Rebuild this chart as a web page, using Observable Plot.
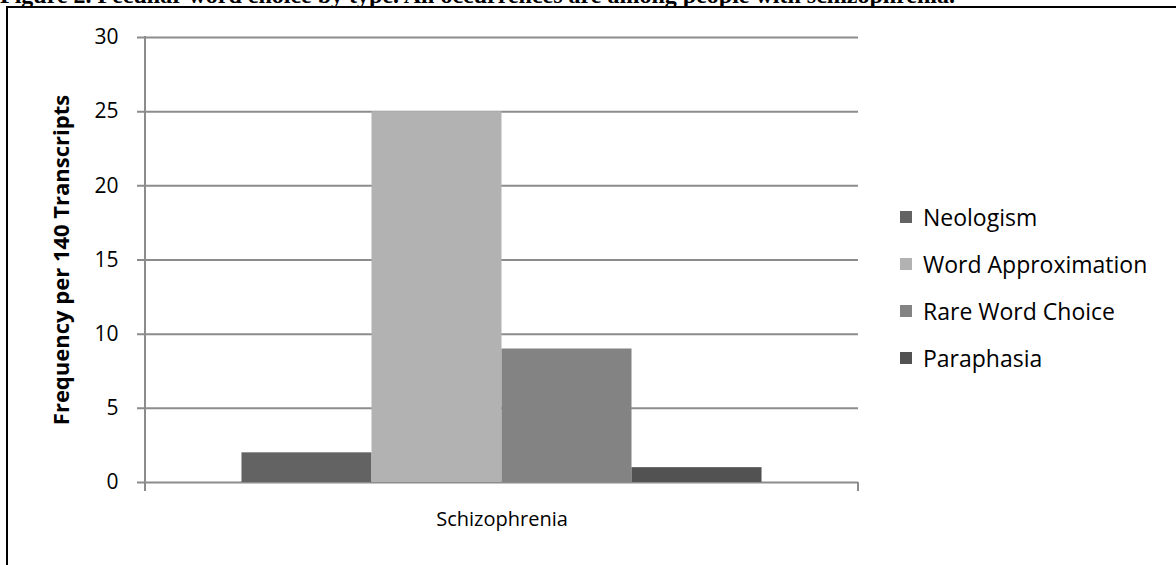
<!DOCTYPE html>
<html>
<head>
<meta charset="utf-8">
<script src="https://cdn.jsdelivr.net/npm/d3@7"></script>
<script src="https://cdn.jsdelivr.net/npm/@observablehq/plot@0.6"></script>
<style>
  html, body { margin: 0; padding: 0; background: #fff; }
  body { width: 1176px; height: 565px; overflow: hidden; position: relative; }
  #title { position: absolute; left: 0; top: -17px; white-space: nowrap;
    font-family: "Liberation Serif", "Times New Roman", serif; font-weight: bold; font-size: 24px; line-height: 24px; color: #000; }
  #frame { position: absolute; left: 6px; top: 6px; width: 1400px; height: 800px;
    border-left: 2px solid #000; border-top: 2px solid #000; }
  #chart { position: absolute; left: 0; top: 0; }
  #ylabel { position: absolute; left: -140px; top: 245px; width: 400px; height: 30px; line-height: 30px;
    text-align: center; transform: rotate(-90deg); transform-origin: 200px 15px;
    font-family: "Open Sans", sans-serif; font-weight: bold; font-size: 22px; color: #000; white-space: nowrap; }
  #legend { position: absolute; left: 900px; top: 193px; font-family: "Open Sans", sans-serif; font-size: 23px; color: #000; }
  .item { height: 47px; display: flex; align-items: center; white-space: nowrap; }
  .sw { width: 12px; height: 12px; margin-right: 11px; flex: none; }
</style>
</head>
<body>
<div id="frame"></div>
<div id="title"></div>
<div id="chart"></div>
<div id="ylabel"></div>
<div id="legend"></div>
<script>
const titleText = "Figure 2. Peculiar word choice by type. All occurrences are among people with schizophrenia.";
const yLabel = "Frequency per 140 Transcripts";
const categories = ["Schizophrenia"];
const types = ["Neologism", "Word Approximation", "Rare Word Choice", "Paraphasia"];
const values = [2, 25, 9, 1];
const colors = ["#636363", "#b2b2b2", "#838383", "#525252"];
const yTicks = [0, 5, 10, 15, 20, 25, 30];

const data = types.map((t, i) => ({category: categories[0], type: t, value: values[i]}));

document.getElementById("title").textContent = titleText;
document.getElementById("ylabel").textContent = yLabel;

const W = 1176, H = 565, mL = 145, mR = 318, mT = 37, mB = 83;
const grid = "#8c8c8c";

const chart = Plot.plot({
  width: W, height: H,
  marginLeft: mL, marginRight: mR, marginTop: mT, marginBottom: mB,
  style: {fontFamily: "Open Sans, sans-serif", fontSize: "21px", color: "#000", background: "transparent", overflow: "visible"},
  x: {domain: types, paddingInner: 0, paddingOuter: 0.742, axis: null, round: false},
  y: {domain: [0, 30], axis: null},
  color: {domain: types, range: colors},
  marks: [
    Plot.ruleY(yTicks, {stroke: grid, strokeWidth: 2, insetLeft: -8}),
    Plot.barY(data, {x: "type", y: "value", fill: "type"}),
    Plot.axisY({ticks: yTicks, tickSize: 0, tickPadding: 27, tickFormat: d => String(d), fill: "#000", label: null}),
    Plot.text(categories, {frameAnchor: "bottom", dy: 43, text: d => d, fill: "#000", fontSize: 20})
  ]
});

const y = chart.scale("y");
const svg = d3.select(chart);
svg.append("line")
  .attr("x1", mL).attr("x2", mL)
  .attr("y1", y.apply(30) - 1).attr("y2", y.apply(0) + 9)
  .attr("stroke", grid).attr("stroke-width", 2);
svg.append("line")
  .attr("x1", W - mR).attr("x2", W - mR)
  .attr("y1", y.apply(0)).attr("y2", y.apply(0) + 9)
  .attr("stroke", grid).attr("stroke-width", 2);

document.getElementById("chart").appendChild(chart);

const legend = d3.select("#legend");
types.forEach((t, i) => {
  const it = legend.append("div").attr("class", "item");
  it.append("div").attr("class", "sw").style("background", colors[i]);
  it.append("span").text(t);
});
</script>
</body>
</html>
